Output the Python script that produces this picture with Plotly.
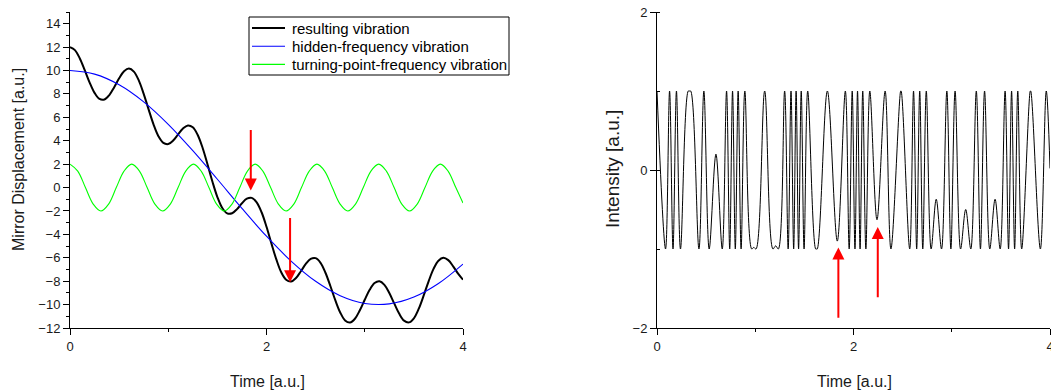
import plotly.graph_objects as go

# ---- left panel: mirror displacement ----
time_grid = [round(0.05 * i, 2) for i in range(81)]
resulting = [
    12.00, 11.74, 11.03, 10.03, 8.97, 8.09, 7.57, 7.52, 7.90, 8.58,
    9.34, 9.94, 10.17, 9.91, 9.16, 8.01, 6.68, 5.40, 4.39, 3.82,
    3.72, 4.02, 4.54, 5.05, 5.31, 5.15, 4.49, 3.38, 1.97, 0.50,
    -0.81, -1.75, -2.21, -2.20, -1.84, -1.34, -0.95, -0.88, -1.26, -2.11,
    -3.35, -4.77, -6.14, -7.24, -7.88, -8.03, -7.73, -7.15, -6.53, -6.09,
    -6.03, -6.43, -7.28, -8.41, -9.62, -10.67, -11.35, -11.53, -11.21, -10.49,
    -9.59, -8.74, -8.16, -8.01, -8.31, -9.01, -9.90, -10.77, -11.37, -11.52,
    -11.17, -10.35, -9.22, -8.01, -6.95, -6.25, -6.00, -6.20, -6.73, -7.36,
    -7.87,
]

hidden_t = [0.0, 0.25, 0.5, 0.75, 1.0, 1.25, 1.5, 1.75, 2.0, 2.25, 2.5, 2.75, 3.0, 3.25, 3.5, 3.75, 4.0]
hidden = [10.00, 9.69, 8.78, 7.32, 5.40, 3.15, 0.71, -1.78, -4.16, -6.28, -8.01, -9.24, -9.90, -9.94, -9.36, -8.20, -6.54]

turning_t = [
    0.000, 0.079, 0.157, 0.236, 0.314, 0.393, 0.471, 0.550, 0.628, 0.707,
    0.785, 0.864, 0.942, 1.021, 1.100, 1.178, 1.257, 1.335, 1.414, 1.492,
    1.571, 1.649, 1.728, 1.806, 1.885, 1.963, 2.042, 2.121, 2.199, 2.278,
    2.356, 2.435, 2.513, 2.592, 2.670, 2.749, 2.827, 2.906, 2.985, 3.063,
    3.142, 3.220, 3.299, 3.377, 3.456, 3.534, 3.613, 3.691, 3.770, 3.848,
    3.927, 4.000,
]
turning = [
    2, 1.41, 0, -1.41, -2, -1.41, 0, 1.41, 2, 1.41,
    0, -1.41, -2, -1.41, 0, 1.41, 2, 1.41, 0, -1.41,
    -2, -1.41, 0, 1.41, 2, 1.41, 0, -1.41, -2, -1.41,
    0, 1.41, 2, 1.41, 0, -1.41, -2, -1.41, 0, 1.41,
    2, 1.41, 0, -1.41, -2, -1.41, 0, 1.41, 2, 1.41,
    0, -1.33,
]

# ---- right panel: detected intensity (turning points of the fringe signal) ----
intensity_t = [
    0.000, 0.087, 0.128, 0.163, 0.198, 0.239, 0.318, 0.330, 0.343, 0.427,
    0.477, 0.531, 0.600, 0.664, 0.708, 0.740, 0.769, 0.797, 0.826, 0.856,
    0.894, 0.964, 0.985, 1.008, 1.096, 1.180, 1.208, 1.235, 1.299, 1.335,
    1.364, 1.391, 1.416, 1.441, 1.468, 1.497, 1.534, 1.615, 1.623, 1.631,
    1.734, 1.835, 1.917, 1.956, 1.987, 2.015, 2.041, 2.067, 2.094, 2.126,
    2.166, 2.239, 2.322, 2.381, 2.480, 2.482, 2.485, 2.572, 2.611, 2.643,
    2.674, 2.705, 2.741, 2.790, 2.842, 2.896, 2.950, 2.991, 3.034, 3.090,
    3.142, 3.194, 3.250, 3.292, 3.334, 3.387, 3.441, 3.493, 3.543, 3.578,
    3.609, 3.640, 3.672, 3.712, 3.799, 3.801, 3.804, 3.902, 3.962, 4.000,
]
intensity = [
    1.00, -1.00, 1.00, -1.00, 1.00, -1.00, 1.00, 1.00, 1.00, -1.00,
    1.00, -1.00, 0.20, -1.00, 1.00, -1.00, 1.00, -1.00, 1.00, -1.00,
    1.00, -1.00, -0.98, -1.00, 1.00, -1.00, -0.96, -1.00, 1.00, -1.00,
    1.00, -1.00, 1.00, -1.00, 1.00, -1.00, 1.00, -1.00, -1.00, -1.00,
    1.00, -0.90, 1.00, -1.00, 1.00, -1.00, 1.00, -1.00, 1.00, -1.00,
    1.00, -0.63, 1.00, -1.00, 1.00, 1.00, 1.00, -1.00, 1.00, -1.00,
    1.00, -1.00, 1.00, -1.00, -0.37, -1.00, 1.00, -1.00, 1.00, -1.00,
    -0.50, -1.00, 1.00, -1.00, 1.00, -1.00, -0.37, -1.00, 1.00, -1.00,
    1.00, -1.00, 1.00, -1.00, 1.00, 1.00, 1.00, -1.00, 1.00, 0.02,
]

# red markers pointing at the turning points
disp_arrow_t = [1.84, 2.24]
disp_arrow_from = [5.05, -2.48]
disp_arrow_to = [-0.26, -8.10]
int_arrow_t = [1.846, 2.247]
int_arrow_from = [-1.89, -1.63]
int_arrow_to = [-0.98, -0.72]

legend_labels = ["resulting vibration", "hidden-frequency vibration", "turning-point-frequency vibration"]

FONT = "Liberation Sans, Arial, sans-serif"
TXT = "#1a1a1a"
styles = [dict(color="black", width=2), dict(color="#0000ff", width=1.1), dict(color="#00ff00", width=1.1)]

fig = go.Figure()
fig.add_trace(go.Scatter(x=time_grid, y=resulting, mode="lines", name=legend_labels[0],
                         line=dict(styles[0], shape="spline")))
fig.add_trace(go.Scatter(x=hidden_t, y=hidden, mode="lines", name=legend_labels[1],
                         line=dict(styles[1], shape="spline")))
fig.add_trace(go.Scatter(x=turning_t, y=turning, mode="lines", name=legend_labels[2],
                         line=dict(styles[2], shape="spline")))
fig.add_trace(go.Scatter(x=intensity_t, y=intensity, mode="lines", name="intensity",
                         line=dict(color="black", width=1, shape="spline"),
                         xaxis="x2", yaxis="y2"))

# figure geometry in pixels
W, H = 1051, 391
ML, MR, MT, MB = 70, 1, 12, 63
PW, PH = W - ML - MR, H - MT - MB


def px(x):
    return (x - ML) / PW


def py(y):
    return 1 - (y - MT) / PH


def axis(minor_ticks="outside"):
    return dict(showline=True, linecolor="black", linewidth=1, ticks="outside", ticklen=6,
                tickcolor="black", tickwidth=1, showgrid=False, zeroline=False, automargin=False,
                ticklabeloverflow="allow",
                tickfont=dict(family=FONT, size=13, color=TXT),
                minor=dict(ticks=minor_ticks, ticklen=3, dtick=1, tick0=0,
                           tickcolor="black", showgrid=False))


annotations = []
for tt, y0, y1 in zip(disp_arrow_t, disp_arrow_from, disp_arrow_to):
    annotations.append(dict(x=tt, y=y1, ax=tt, ay=y0, xref="x", yref="y", axref="x", ayref="y",
                            text="", showarrow=True, arrowhead=2, arrowsize=1.2, arrowwidth=2,
                            arrowcolor="#ff0000", standoff=0))
for tt, y0, y1 in zip(int_arrow_t, int_arrow_from, int_arrow_to):
    annotations.append(dict(x=tt, y=y1, ax=tt, ay=y0, xref="x2", yref="y2", axref="x2", ayref="y2",
                            text="", showarrow=True, arrowhead=2, arrowsize=1.2, arrowwidth=2,
                            arrowcolor="#ff0000", standoff=0))

title_font = dict(family=FONT, size=16, color=TXT)
annotations += [
    dict(text="Mirror Displacement [a.u.]", xref="paper", yref="paper", x=px(18), y=py(160),
         textangle=-90, showarrow=False, font=title_font, xanchor="center", yanchor="middle"),
    dict(text="Intensity [a.u.]", xref="paper", yref="paper", x=px(612), y=py(169),
         textangle=-90, showarrow=False, font=dict(title_font, size=19),
         xanchor="center", yanchor="middle"),
    dict(text="Time [a.u.]", xref="paper", yref="paper", x=px(267), y=py(381),
         showarrow=False, font=title_font, xanchor="center", yanchor="middle"),
    dict(text="Time [a.u.]", xref="paper", yref="paper", x=px(854), y=py(381),
         showarrow=False, font=title_font, xanchor="center", yanchor="middle"),
]

# legend box drawn in the upper part of the left panel
shapes = [dict(type="rect", xref="paper", yref="paper", x0=px(249), x1=px(509), y0=py(75), y1=py(17),
               line=dict(color="black", width=1), fillcolor="white", layer="above")]
for i, (label, st) in enumerate(zip(legend_labels, styles)):
    row = 28 + 18.2 * i
    shapes.append(dict(type="line", xref="paper", yref="paper", x0=px(252), x1=px(285),
                       y0=py(row), y1=py(row), line=dict(color=st["color"], width=st["width"]),
                       layer="above"))
    annotations.append(dict(text=label, xref="paper", yref="paper", x=px(290), y=py(row),
                            xanchor="left", yanchor="middle", showarrow=False,
                            font=dict(family=FONT, size=15, color="black")))

fig.update_layout(
    width=W, height=H, margin=dict(l=ML, r=MR, t=MT, b=MB),
    paper_bgcolor="white", plot_bgcolor="white", font=dict(family=FONT, color=TXT),
    xaxis=dict(axis(), domain=[0, px(463)], range=[0, 4], dtick=2, tick0=0, anchor="y"),
    yaxis=dict(axis(), range=[-12, 15], dtick=2, tick0=0, anchor="x"),
    xaxis2=dict(axis(), domain=[px(657), 1], range=[0, 4], dtick=2, tick0=0, anchor="y2"),
    yaxis2=dict(axis("inside"), range=[-2, 2], dtick=2, tick0=0, anchor="x2"),
    annotations=annotations,
    shapes=shapes,
    showlegend=False,
)
fig.write_html("out.html")
